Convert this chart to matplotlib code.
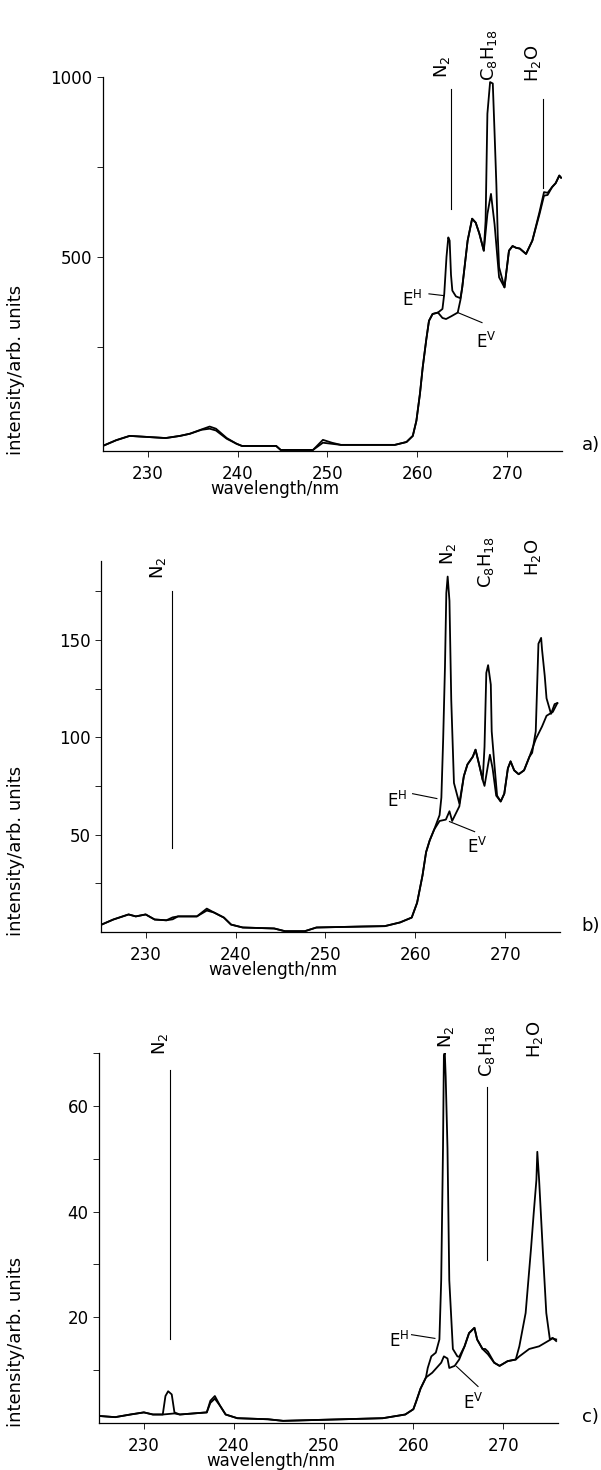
import matplotlib
matplotlib.use("Agg")
import matplotlib.pyplot as plt
from matplotlib.ticker import FixedLocator, NullFormatter
from matplotlib.transforms import blended_transform_factory

plt.rcParams['font.family'] = ['DejaVu Sans']
plt.rcParams['mathtext.default'] = 'regular'

# ---- panel a) : E^V and E^H spectra ----
wl_a_v = [225.0, 226.5, 228.0, 230.0, 232.0, 233.6, 234.7, 236.0, 236.9, 237.6, 238.8, 239.9,
          240.5, 244.3, 244.8, 248.4, 249.5, 250.5, 251.5, 257.5, 258.8, 259.5, 259.9, 260.3,
          260.6, 261.0, 261.3, 261.7, 262.3, 262.8, 263.2, 263.8, 264.5, 264.8, 265.0, 265.6,
          266.1, 266.5, 266.9, 267.4, 267.8, 268.2, 268.6, 269.1, 269.7, 270.2, 270.6, 271.0,
          271.4, 272.1, 272.8, 273.6, 274.1, 274.5, 275.0, 275.4, 275.8, 276.0]
int_a_v = [-26, -10, 2, -1, -4, 2, 8, 19, 22, 17, -6, -20,
           -26, -26, -37, -37, -17, -20, -23, -23, -15, 2, 44, 120,
           192, 270, 322, 341, 345, 330, 327, 335, 345, 380, 415, 545,
           606, 595, 565, 517, 619, 675, 590, 443, 415, 517, 530, 525,
           523, 508, 545, 619, 670, 672, 694, 705, 726, 720]
wl_a_h = [225.0, 226.5, 228.0, 230.0, 232.0, 233.6, 234.7, 236.0, 236.9, 237.6, 238.8, 239.9,
          240.5, 244.3, 244.8, 248.4, 249.5, 250.5, 251.5, 257.5, 258.8, 259.5, 259.9, 260.3,
          260.6, 261.0, 261.3, 261.7, 262.3, 262.8, 263.0, 263.25, 263.45, 263.6, 263.75, 263.9,
          264.3, 264.8, 265.0, 265.6, 266.1, 266.5, 266.9, 267.4, 267.6, 267.8, 268.1, 268.4,
          268.6, 268.8, 268.95, 269.1, 269.7, 270.2, 270.6, 271.0, 271.4, 272.1, 272.8, 273.6,
          274.1, 274.5, 275.0, 275.4, 275.8, 276.0]
int_a_h = [-26, -10, 2, -1, -4, 2, 8, 20, 28, 22, -4, -20,
           -26, -26, -37, -37, -9, -17, -23, -23, -15, 2, 44, 120,
           192, 270, 322, 341, 345, 355, 397, 500, 554, 545, 450, 406,
           390, 385, 415, 545, 606, 595, 565, 517, 600, 898, 986, 982,
           843, 700, 560, 471, 415, 517, 530, 525, 523, 508, 545, 625,
           680, 678, 694, 705, 726, 720]

# ---- panel b) ----
wl_b_v = [225.1, 226.4, 228.1, 228.9, 230.0, 231.0, 232.3, 233.0, 233.6, 235.7, 236.8, 237.6,
          238.7, 239.5, 240.8, 244.3, 245.5, 247.7, 249.0, 254.1, 256.6, 258.3, 259.6, 260.2,
          260.8, 261.2, 261.6, 262.1, 262.7, 263.4, 263.8, 264.1, 264.9, 265.4, 265.8, 266.4,
          266.7, 267.1, 267.5, 267.7, 268.1, 268.3, 268.6, 269.0, 269.5, 269.9, 270.3, 270.6,
          271.0, 271.5, 272.1, 272.7, 273.4, 274.1, 274.6, 275.3, 275.8]
int_b_v = [3.8, 6.4, 9, 8, 9, 6.4, 6, 6.5, 8, 8, 11, 10,
           7.4, 3.8, 2.3, 1.8, 0.4, 0.4, 2.3, 2.8, 3, 4.9, 7.4, 15,
           29, 41, 47, 52.6, 57, 57.7, 62, 57, 64.5, 80, 86, 90,
           93.6, 86, 78, 75, 86, 91, 84, 70, 67, 71, 84, 87.6,
           83, 81, 83, 90, 99, 105.5, 111, 113, 117.5]
wl_b_h = [225.1, 226.4, 228.1, 228.9, 230.0, 231.0, 232.3, 233.0, 233.6, 235.7, 236.8, 237.6,
          238.7, 239.5, 240.8, 244.3, 245.5, 247.7, 249.0, 254.1, 256.6, 258.3, 259.6, 260.2,
          260.8, 261.2, 261.6, 262.1, 262.7, 262.9, 263.1, 263.3, 263.45, 263.6, 263.8, 264.0,
          264.3, 264.9, 265.4, 265.8, 266.4, 266.7, 267.1, 267.5, 267.7, 267.9, 268.1, 268.4,
          268.5, 268.8, 269.1, 269.5, 269.9, 270.3, 270.6, 271.0, 271.5, 272.1, 272.7, 273.0,
          273.4, 273.7, 274.0, 274.1, 274.4, 274.6, 275.1, 275.5, 275.8]
int_b_h = [3.8, 6.4, 9, 8, 9, 6.4, 6, 7.5, 8, 8, 12, 10,
           7.4, 3.8, 2.3, 1.8, 0.4, 0.4, 2.3, 2.8, 3, 4.9, 7.4, 15,
           29, 41, 47, 52.6, 60, 69, 99, 136, 174, 182.5, 170, 119,
           76.5, 66, 80, 86, 90, 93.6, 86, 78, 95, 133, 137, 127,
           103, 86, 70, 67, 71, 84, 87.6, 83, 81, 83, 90, 92,
           103, 148, 151, 145, 131.5, 120, 112, 117, 117.5]

# ---- panel c) ----
wl_c_v = [225.2, 226.8, 228.5, 230.0, 231.0, 232.1, 233.4, 234.0, 237.0, 237.4, 237.9, 238.5,
          239.1, 240.4, 243.8, 245.5, 256.6, 259.1, 260.0, 260.3, 260.8, 261.4, 262.1, 263.1,
          263.4, 263.8, 264.0, 264.6, 265.1, 265.7, 266.2, 266.8, 267.1, 267.7, 268.0, 268.3,
          269.0, 269.6, 270.5, 271.4, 271.8, 272.9, 274.0, 274.7, 275.5, 275.9]
int_c_v = [1.3, 1.1, 1.6, 2, 1.6, 1.6, 1.8, 1.6, 2, 3.8, 4.6, 3.2,
           1.6, 0.9, 0.7, 0.4, 0.9, 1.6, 2.6, 4.0, 6.5, 8.6, 9.5, 11.4,
           12.6, 12.2, 10.4, 10.8, 12, 14.5, 17, 18, 15.8, 14, 13.5, 13,
           11.4, 10.8, 11.7, 12, 12.6, 14, 14.5, 15.2, 16, 15.8]
wl_c_h = [225.2, 226.8, 228.5, 230.0, 231.0, 232.1, 232.4, 232.7, 233.1, 233.4, 234.0, 237.0,
          237.4, 237.9, 238.5, 239.1, 240.4, 243.8, 245.5, 256.6, 259.1, 260.0, 260.3, 260.8,
          261.4, 261.6, 262.0, 262.5, 262.9, 263.1, 263.3, 263.4, 263.5, 263.6, 263.8, 264.0,
          264.4, 264.9, 265.1, 265.7, 266.2, 266.8, 267.1, 267.7, 268.0, 268.3, 269.0, 269.6,
          270.5, 271.4, 271.8, 272.5, 273.1, 273.4, 273.7, 273.8, 274.0, 274.4, 274.8, 275.2,
          275.5, 275.9]
int_c_h = [1.3, 1.1, 1.6, 2, 1.6, 1.6, 5.1, 6, 5.4, 2, 1.6, 2,
           4.2, 5.1, 3.2, 1.6, 0.9, 0.7, 0.4, 0.9, 1.6, 2.6, 4.0, 6.5,
           8.6, 10.4, 12.6, 13.3, 15.8, 27, 52, 69.6, 70, 65.5, 52, 27,
           14, 12.6, 12.5, 14.5, 17, 18, 15.8, 14, 14, 13.5, 11.4, 10.8,
           11.7, 12, 14.5, 20.8, 33, 39.7, 46, 51.3, 46, 33, 20.8, 15.8,
           16.1, 15.5]

x_ticks = [230, 240, 250, 260, 270]

# label positions: (text, x, y-bottom) and leader lines (x, y0, y1)
panels = [
    dict(rect=[0.1709, 0.6932, 0.7642, 0.2544], ylim=(-40, 1000),
         major=[500, 1000], minor=[250, 750], tag='a)',
         wl_v=wl_a_v, iv=int_a_v, wl_h=wl_a_h, ih=int_a_h,
         species=[(r'N$_2$', 262.8, 997), (r'C$_8$H$_{18}$', 268.0, 990), (r'H$_2$O', 272.9, 985)],
         vlines=[(263.7, 634, 968), (274.0, 692, 940)],
         eh=(258.3, 364, (261.3, 397), (263.0, 392)),
         ev=(266.5, 247, (264.5, 345), (267.2, 317))),
    dict(rect=[0.1676, 0.3660, 0.7642, 0.2524], ylim=(0, 190.5),
         major=[50, 100, 150], minor=[25, 75, 125, 175], tag='b)',
         wl_v=wl_b_v, iv=int_b_v, wl_h=wl_b_h, ih=int_b_h,
         species=[(r'N$_2$', 231.4, 181), (r'N$_2$', 263.6, 188.5),
                  (r'C$_8$H$_{18}$', 267.9, 176.7), (r'H$_2$O', 273.1, 183)],
         vlines=[(232.9, 43, 175)],
         eh=(256.9, 64, (259.7, 71), (262.4, 68.5)),
         ev=(265.8, 40.8, (263.8, 56.7), (266.6, 51.5))),
    dict(rect=[0.1647, 0.0320, 0.7637, 0.2517], ylim=(0, 70),
         major=[20, 40, 60], minor=[10, 30, 50, 70], tag='c)',
         wl_v=wl_c_v, iv=int_c_v, wl_h=wl_c_h, ih=int_c_h,
         species=[(r'N$_2$', 231.8, 69.6), (r'N$_2$', 263.6, 71),
                  (r'C$_8$H$_{18}$', 268.2, 65.4), (r'H$_2$O', 273.5, 69)],
         vlines=[(232.9, 15.8, 66.7), (268.2, 30.8, 63.5)],
         eh=(257.3, 14.3, (259.8, 16.7), (262.4, 16.0)),
         ev=(265.5, 2.6, (264.8, 10.7), (267.2, 6.9))),
]

fig = plt.figure(figsize=(6.01, 14.70), dpi=100)

for p in panels:
    ax = fig.add_axes(p['rect'])
    ax.plot(p['wl_v'], p['iv'], color='black', lw=1.3)
    ax.plot(p['wl_h'], p['ih'], color='black', lw=1.3)
    ax.set_xlim(225, 276.1)
    ax.set_ylim(*p['ylim'])
    for s in ['top', 'right']:
        ax.spines[s].set_visible(False)
    for s in ['left', 'bottom']:
        ax.spines[s].set_linewidth(0.9)
    ax.set_xticks(x_ticks)
    ax.set_yticks(p['major'])
    ax.yaxis.set_minor_locator(FixedLocator(p['minor']))
    ax.yaxis.set_minor_formatter(NullFormatter())
    ax.tick_params(which='both', direction='out', length=4, width=0.6, labelsize=12)
    ax.tick_params(axis='x', pad=6)

    # axis titles, placed as in the original figure
    ax.annotate('wavelength/nm', xy=(244.1, 0), xycoords=('data', 'axes fraction'),
                xytext=(0, -38), textcoords='offset pixels', ha='center', va='center',
                fontsize=12)
    blend = blended_transform_factory(fig.transFigure, ax.transAxes)
    ax.text(0.026, -0.01, 'intensity/arb. units', transform=blend, rotation=90,
            ha='center', va='bottom', fontsize=13)
    ax.annotate(p['tag'], xy=(0.968, 0), xycoords=blend, xytext=(0, 6),
                textcoords='offset pixels', ha='left', va='center', fontsize=13)

    for txt, x, y in p['species']:
        ax.text(x, y, txt, rotation=90, ha='center', va='bottom', fontsize=13)
    for x, y0, y1 in p['vlines']:
        ax.plot([x, x], [y0, y1], color='black', lw=0.8, clip_on=False)

    for lab, key in [(r'E$^H$', 'eh'), (r'E$^V$', 'ev')]:
        tx, ty, (x0, y0), (x1, y1) = p[key]
        ax.text(tx, ty, lab, ha='left', va='baseline', fontsize=12)
        ax.plot([x0, x1], [y0, y1], color='black', lw=0.8)

fig.savefig('out.png', dpi=100)
